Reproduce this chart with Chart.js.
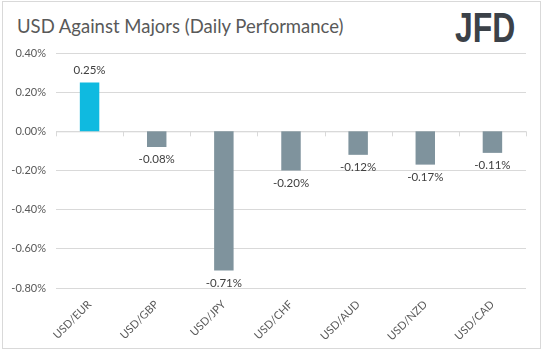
<!DOCTYPE html>
<html lang="en">
<head>
  <meta charset="UTF-8">
  <title>USD Against Majors (Daily Performance)</title>
  <script src="https://cdn.jsdelivr.net/npm/chart.js"></script>
  <style>
    body {
      margin: 0;
      background: #ffffff;
      font-family: Lato, sans-serif;
    }
    #marco {
      position: relative;
      width: 544px;
      height: 352px;
      overflow: hidden;
    }
    #borde {
      position: absolute;
      left: 2px;
      top: 1px;
      width: 537px;
      height: 346px;
      border: 1px solid #d9d9d9;
    }
    #titulo {
      position: absolute;
      left: 17px;
      top: 15px;
      font-size: 18.5px;
      color: #595959;
      white-space: nowrap;
    }
    #logo {
      position: absolute;
      left: 455px;
      top: 4px;
      font-family: "Liberation Sans", sans-serif;
      font-weight: bold;
      font-size: 42px;
      color: #3b4148;
      transform: scaleX(0.76);
      transform-origin: left top;
    }
    canvas {
      position: absolute;
      left: 0;
      top: 0;
    }
  </style>
</head>
<body>

<div id="marco">
  <div id="borde"></div>
  <div id="titulo">USD Against Majors (Daily Performance)</div>
  <div id="logo">JFD</div>
  <canvas id="grafico" width="544" height="352"></canvas>
</div>

<script>
const pares = ["USD/EUR", "USD/GBP", "USD/JPY", "USD/CHF", "USD/AUD", "USD/NZD", "USD/CAD"];
const cambios = [0.25, -0.08, -0.71, -0.20, -0.12, -0.17, -0.11];
const colorSube = '#0fbae0';
const colorBaja = '#7f939d';

// etiquetas de valor encima / debajo de cada barra
const etiquetas = {
  id: 'etiquetas',
  afterDatasetsDraw(chart) {
    const ctx = chart.ctx;
    const meta = chart.getDatasetMeta(0);
    ctx.save();
    ctx.font = '11.5px Lato';
    ctx.fillStyle = '#404040';
    ctx.textAlign = 'center';
    meta.data.forEach((bar, i) => {
      const v = cambios[i];
      const txt = v.toFixed(2) + '%';
      if (v >= 0) {
        ctx.textBaseline = 'bottom';
        ctx.fillText(txt, bar.x, bar.y - 6);
      } else {
        ctx.textBaseline = 'top';
        ctx.fillText(txt, bar.x, bar.y + 7);
      }
    });
    ctx.restore();
  }
};

// pequeñas marcas del eje en la linea del cero
const marcasCero = {
  id: 'marcasCero',
  beforeDatasetsDraw(chart) {
    const ctx = chart.ctx;
    const x = chart.scales.x;
    const y0 = chart.scales.y.getPixelForValue(0);
    ctx.save();
    ctx.strokeStyle = '#d9d9d9';
    ctx.lineWidth = 1;
    ctx.beginPath();
    ctx.moveTo(x.left, y0 + 0.5);
    ctx.lineTo(x.right, y0 + 0.5);
    for (let i = 0; i <= pares.length; i++) {
      const px = Math.round(x.getPixelForValue(i - 0.5)) + 0.5;
      ctx.moveTo(px, y0);
      ctx.lineTo(px, y0 + 5);
    }
    ctx.stroke();
    ctx.restore();
  }
};

new Chart(document.getElementById('grafico'), {
  type: 'bar',
  data: {
    labels: pares,
    datasets: [{
      data: cambios,
      backgroundColor: cambios.map(v => v >= 0 ? colorSube : colorBaja),
      barPercentage: 0.58,
      categoryPercentage: 0.5
    }]
  },
  options: {
    responsive: false,
    animation: false,
    layout: {
      padding: { left: 0, right: 18, top: 53, bottom: 0 }
    },
    scales: {
      x: {
        afterFit: s => { s.height = 64; },
        grid: { display: false, drawTicks: false },
        border: { display: false },
        ticks: {
          color: '#595959',
          font: { family: 'Lato', size: 11 },
          minRotation: 45,
          maxRotation: 45,
          padding: 10
        }
      },
      y: {
        min: -0.8,
        max: 0.4,
        afterFit: s => { s.width = 56; },
        grid: { color: '#d9d9d9', drawTicks: false },
        border: { display: false },
        ticks: {
          stepSize: 0.2,
          color: '#595959',
          font: { family: 'Lato', size: 11 },
          padding: 10,
          callback: v => v.toFixed(2) + '%'
        }
      }
    },
    plugins: {
      legend: { display: false },
      tooltip: { enabled: false }
    }
  },
  plugins: [marcasCero, etiquetas]
});
</script>

</body>
</html>
